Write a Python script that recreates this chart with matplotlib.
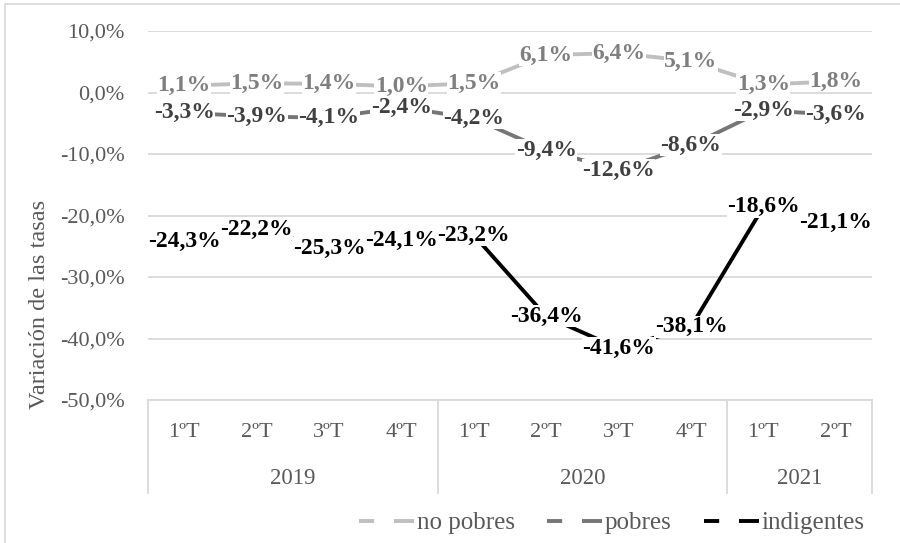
import numpy as np
import matplotlib.pyplot as plt
from matplotlib.lines import Line2D
from matplotlib.patches import Rectangle

plt.rcParams['font.family'] = ['Liberation Serif', 'DejaVu Serif']

years = ["2019", "2020", "2021"]
quarters = ["1ºT", "2ºT", "3ºT", "4ºT", "1ºT", "2ºT", "3ºT", "4ºT", "1ºT", "2ºT"]
year_spans = [(0, 4), (4, 8), (8, 10)]

no_pobres = [1.1, 1.5, 1.4, 1.0, 1.5, 6.1, 6.4, 5.1, 1.3, 1.8]
pobres = [-3.3, -3.9, -4.1, -2.4, -4.2, -9.4, -12.6, -8.6, -2.9, -3.6]
indigentes = [-24.3, -22.2, -25.3, -24.1, -23.2, -36.4, -41.6, -38.1, -18.6, -21.1]

series = [
    ("no pobres", no_pobres, "#bfbfbf", "#7f7f7f"),
    ("pobres", pobres, "#767676", "#404040"),
    ("indigentes", indigentes, "#000000", "#000000"),
]
grey = "#595959"
grid_c = "#d9d9d9"

fig = plt.figure(figsize=(9, 5.43), dpi=100)
ax = fig.add_axes([148 / 900, 143 / 543, 724 / 900, 369 / 543])

# outer chart border
fig.patches.append(Rectangle((5 / 900, -0.1), 1.0, (543 - 4) / 543 + 0.1,
                             transform=fig.transFigure, fill=False,
                             edgecolor=grid_c, lw=1.2, zorder=0))

x = np.arange(len(quarters))
for name, vals, lc, tc in series:
    ax.plot(x, vals, color=lc, lw=2.8, solid_capstyle="butt", zorder=3)
    for xi, v in zip(x, vals):
        ax.text(xi, v, f"{v:.1f}%".replace(".", ","), ha="center", va="center",
                fontsize=17, fontweight="bold", color=tc, zorder=5,
                bbox=dict(boxstyle="square,pad=0.02", fc="white", ec="none"))

ax.set_xlim(-0.5, len(quarters) - 0.5)
ax.set_ylim(-50, 10)
yt = np.arange(-50, 11, 10)
ax.set_yticks(yt)
ax.set_yticklabels([f"{t:.1f}%".replace(".", ",") for t in yt],
                   fontsize=16, color=grey)
ax.tick_params(axis="y", length=0, pad=17)
ax.set_xticks([])
ax.grid(axis="y", color=grid_c, lw=1.3, zorder=1)
ax.set_axisbelow(True)
for s in ["top", "right", "left"]:
    ax.spines[s].set_visible(False)
ax.spines["bottom"].set_color(grid_c)
ax.spines["bottom"].set_linewidth(1.3)

# two-level category axis: quarters, then years with separators
trans = ax.get_xaxis_transform()
for xi, q in zip(x, quarters):
    ax.text(xi, -0.087, q, transform=trans, ha="center", va="center",
            fontsize=16, color=grey)
for (a, b), yr in zip(year_spans, years):
    ax.text((a + b - 1) / 2, -0.214, yr, transform=trans, ha="center",
            va="center", fontsize=16.5, color=grey)
for b in [0, 4, 8, 10]:
    ax.plot([b - 0.5, b - 0.5], [0, -0.252], transform=trans, color=grid_c,
            lw=1.3, clip_on=False)

fig.text(40 / 900, 1 - 304 / 543, "Variación de las tasas", rotation=90,
         ha="center", va="center", fontsize=17.5, color=grey)

handles = [Line2D([], [], color=lc, lw=2.8, linestyle=(0, (3.9, 5.1, 10, 0)))
           for _, _, lc, _ in series]
fig.legend(handles, [s[0] for s in series], loc="center",
           bbox_to_anchor=(612 / 900, 1 - 523 / 543), ncol=3, frameon=False,
           fontsize=18, handlelength=2.2, handletextpad=0.1,
           columnspacing=1.3, labelcolor=grey)

fig.savefig("out.png", dpi=100)
